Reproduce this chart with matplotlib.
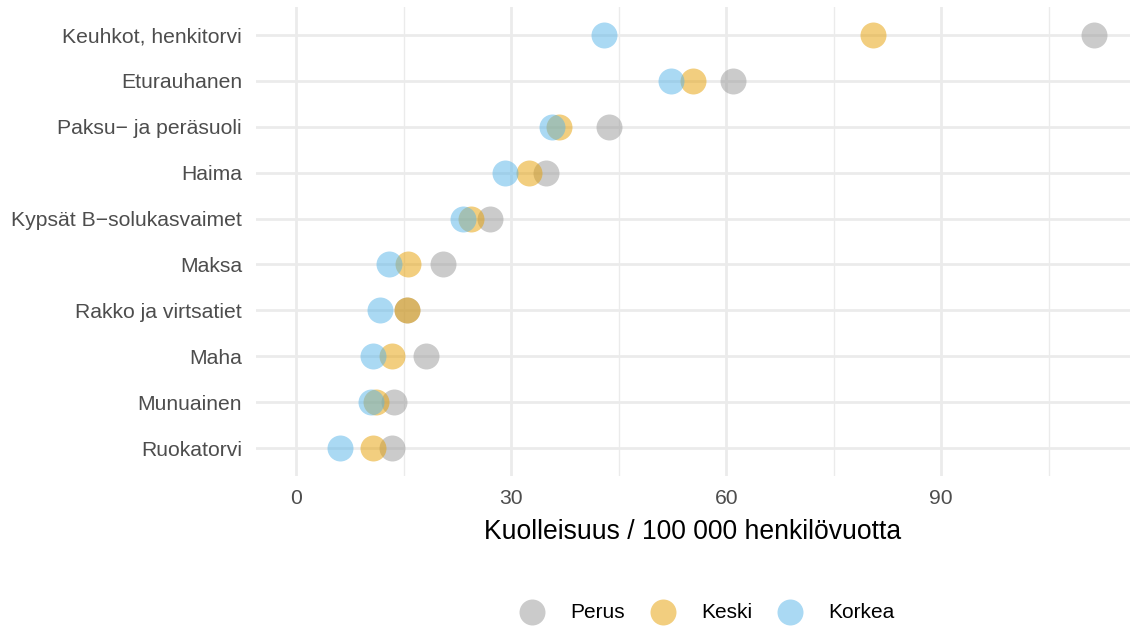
import numpy as np
import matplotlib
matplotlib.use("Agg")
import matplotlib.pyplot as plt
from matplotlib.ticker import MultipleLocator

plt.rcParams['font.family'] = ['Liberation Sans', 'DejaVu Sans']

# cancer sites, top to bottom
sites = ['Keuhkot, henkitorvi', 'Eturauhanen', 'Paksu\u2212 ja peräsuoli', 'Haima',
         'Kypsät B\u2212solukasvaimet', 'Maksa', 'Rakko ja virtsatiet', 'Maha',
         'Munuainen', 'Ruokatorvi']

# mortality per 100 000 person-years by education level
perus = [111.3, 61.0, 43.7, 34.9, 27.0, 20.5, 15.5, 18.1, 13.6, 13.4]
keski = [80.5, 55.4, 36.7, 32.5, 24.4, 15.6, 15.5, 13.4, 11.2, 10.8]
korkea = [42.9, 52.3, 35.7, 29.2, 23.3, 13.0, 11.7, 10.7, 10.4, 6.1]

groups = ['Perus', 'Keski', 'Korkea']
colors = ['#999999', '#E69F00', '#56B4E9']

W, H = 1130, 628
fig = plt.figure(figsize=(W / 100, H / 100), dpi=100)
ax = fig.add_axes([256 / W, 1 - 476 / H, (1130 - 256) / W, (476 - 7) / H])

ypos = np.arange(len(sites))[::-1]
for vals, lab, col in zip([perus, keski, korkea], groups, colors):
    ax.scatter(vals, ypos, s=350, color=col, alpha=0.5, linewidths=0,
               label=lab, zorder=3)

ax.set_xlim((256 - 296) / 7.17, (1130 - 296) / 7.17)
ax.set_ylim(-0.6, len(sites) - 1 + 0.6)
ax.set_yticks(ypos)
ax.set_yticklabels(sites)
ax.xaxis.set_major_locator(MultipleLocator(30))
ax.xaxis.set_minor_locator(MultipleLocator(15))

ax.grid(True, which='major', color='#EBEBEB', linewidth=1.95, zorder=0)
ax.grid(True, which='minor', axis='x', color='#EBEBEB', linewidth=1.0, zorder=0)
ax.set_axisbelow(True)
for sp in ax.spines.values():
    sp.set_visible(False)
ax.tick_params(axis='both', which='both', length=0, labelsize=15.2,
               labelcolor='#4D4D4D')
ax.tick_params(axis='y', pad=10)
ax.tick_params(axis='x', pad=9)

ax.set_xlabel('Kuolleisuus / 100 000 henkilövuotta', fontsize=19.1,
              color='black', labelpad=8)

leg = fig.legend(loc='center', bbox_to_anchor=(707 / W, 1 - 612 / H), ncol=3,
                 frameon=False, fontsize=15, handlelength=1.25,
                 handletextpad=1.2, columnspacing=1.2, scatterpoints=1)

fig.savefig('out.png', dpi=100, facecolor='white')
